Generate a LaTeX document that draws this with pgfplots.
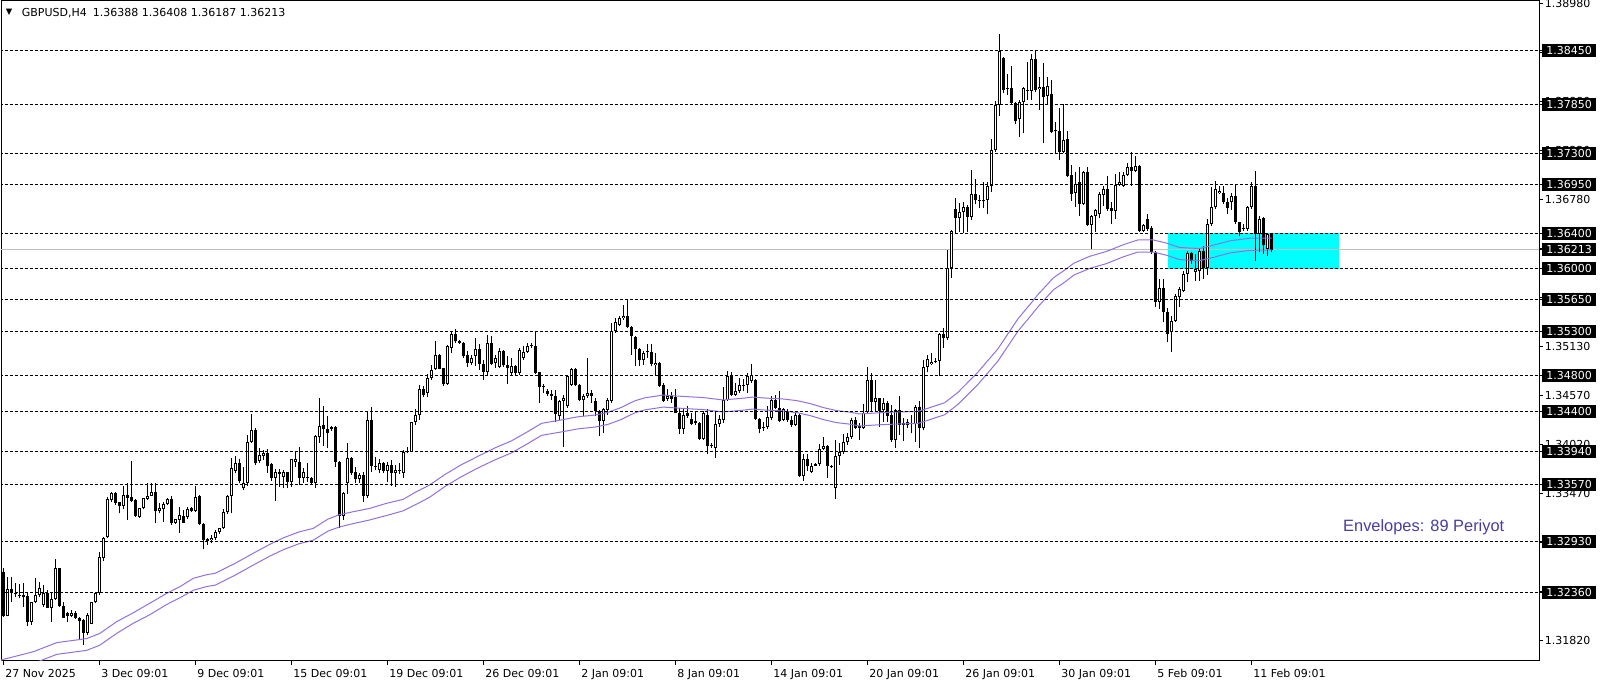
\documentclass[border=0pt]{standalone}
\usepackage{fontspec}
\setmainfont{DejaVu Sans}
\newfontfamily\arialfont{Liberation Sans}
\usepackage{pgfplots}
\usepackage{pgfplotstable}
\pgfplotsset{compat=1.18}
\definecolor{envc}{RGB}{147,112,219}
\definecolor{silverc}{RGB}{192,192,192}
\definecolor{envtext}{RGB}{72,61,160}
\definecolor{zonec}{RGB}{0,255,255}

% GBPUSD H4 candles: bar index, open, high, low, close
\pgfplotstableread{
i o h l c
0 1.32587 1.32632 1.32088 1.32099
1 1.32099 1.32530 1.32092 1.32395
2 1.32395 1.32530 1.32257 1.32358
3 1.32358 1.32470 1.32313 1.32343
4 1.32335 1.32455 1.32294 1.32320
5 1.32328 1.32470 1.32200 1.32305
6 1.32320 1.32350 1.31987 1.32032
7 1.32032 1.32257 1.31994 1.32249
8 1.32249 1.32527 1.32238 1.32328
9 1.32328 1.32478 1.32313 1.32407
10 1.32223 1.32444 1.32200 1.32350
11 1.32350 1.32388 1.32180 1.32189
12 1.32189 1.32358 1.32032 1.32287
13 1.32287 1.32737 1.32280 1.32632
14 1.32632 1.32640 1.32200 1.32212
15 1.32212 1.32257 1.32070 1.32077
16 1.32126 1.32145 1.32032 1.32096
17 1.32099 1.32160 1.32080 1.32126
18 1.32126 1.32155 1.32060 1.32077
19 1.32077 1.32080 1.31825 1.32043
20 1.32050 1.32060 1.31769 1.31908
21 1.31908 1.32126 1.31882 1.32107
22 1.32006 1.32257 1.32000 1.32249
23 1.32249 1.32369 1.32238 1.32350
24 1.32350 1.32819 1.32332 1.32755
25 1.32744 1.32980 1.32714 1.32969
26 1.32980 1.33438 1.32969 1.33408
27 1.33400 1.33494 1.33380 1.33475
28 1.33475 1.33494 1.33340 1.33370
29 1.33374 1.33380 1.33250 1.33336
30 1.33336 1.33561 1.33295 1.33453
31 1.33453 1.33588 1.33175 1.33426
32 1.33430 1.33838 1.33380 1.33389
33 1.33400 1.33410 1.33213 1.33224
34 1.33213 1.33310 1.33200 1.33306
35 1.33306 1.33426 1.33295 1.33419
36 1.33415 1.33588 1.33400 1.33441
37 1.33449 1.33595 1.33440 1.33486
38 1.33494 1.33588 1.33138 1.33280
39 1.33280 1.33363 1.33250 1.33306
40 1.33295 1.33381 1.33156 1.33355
41 1.33351 1.33426 1.33340 1.33411
42 1.33411 1.33449 1.33119 1.33145
43 1.33145 1.33190 1.33130 1.33183
44 1.33175 1.33325 1.33033 1.33228
45 1.33224 1.33288 1.33140 1.33145
46 1.33213 1.33317 1.33190 1.33295
47 1.33310 1.33320 1.33270 1.33280
48 1.33280 1.33558 1.33270 1.33438
49 1.33441 1.33460 1.33120 1.33130
50 1.33130 1.33140 1.32845 1.32950
51 1.32943 1.32969 1.32894 1.32958
52 1.32950 1.33006 1.32913 1.32973
53 1.32969 1.33060 1.32950 1.33044
54 1.33043 1.33085 1.33020 1.33080
55 1.33080 1.33294 1.33070 1.33260
56 1.33260 1.33455 1.33240 1.33444
57 1.33444 1.33868 1.33250 1.33755
58 1.33729 1.33894 1.33699 1.33811
59 1.33811 1.33856 1.33587 1.33617
60 1.33531 1.33767 1.33512 1.33588
61 1.33588 1.34130 1.33561 1.34055
62 1.34055 1.34363 1.34044 1.34186
63 1.34186 1.34205 1.33793 1.33819
64 1.33841 1.33980 1.33819 1.33901
65 1.33894 1.33961 1.33849 1.33931
66 1.33931 1.33969 1.33707 1.33785
67 1.33804 1.33819 1.33617 1.33650
68 1.33650 1.33748 1.33392 1.33710
69 1.33710 1.33748 1.33549 1.33688
70 1.33662 1.33737 1.33530 1.33710
71 1.33710 1.33718 1.33530 1.33605
72 1.33605 1.33856 1.33549 1.33856
73 1.33826 1.33943 1.33774 1.33856
74 1.33823 1.33999 1.33568 1.33650
75 1.33650 1.33760 1.33590 1.33710
76 1.33660 1.33811 1.33605 1.33645
77 1.33643 1.33660 1.33580 1.33594
78 1.33587 1.34130 1.33530 1.34119
79 1.34104 1.34543 1.34044 1.34228
80 1.34239 1.34453 1.34010 1.34194
81 1.34194 1.34344 1.33980 1.34149
82 1.34194 1.34230 1.34180 1.34216
83 1.34224 1.34230 1.33774 1.33830
84 1.33830 1.33840 1.33088 1.33219
85 1.33219 1.33493 1.33174 1.33482
86 1.33587 1.34036 1.33463 1.33868
87 1.33868 1.33886 1.33680 1.33699
88 1.33710 1.33766 1.33587 1.33632
89 1.33632 1.33699 1.33594 1.33680
90 1.33680 1.33718 1.33380 1.33448
91 1.33448 1.34400 1.33418 1.34299
92 1.34299 1.34441 1.33718 1.33785
93 1.33785 1.33886 1.33736 1.33766
94 1.33736 1.33864 1.33699 1.33811
95 1.33811 1.33830 1.33699 1.33729
96 1.33729 1.33830 1.33605 1.33789
97 1.33789 1.33849 1.33557 1.33699
98 1.33699 1.33789 1.33549 1.33736
99 1.33730 1.33811 1.33692 1.33732
100 1.33699 1.33961 1.33650 1.33935
101 1.33935 1.33999 1.33924 1.33950
102 1.33943 1.34280 1.33935 1.34273
103 1.34273 1.34419 1.34243 1.34355
104 1.34355 1.34692 1.34299 1.34644
105 1.34644 1.34681 1.34554 1.34580
106 1.34599 1.34816 1.34554 1.34767
107 1.34772 1.34915 1.34754 1.34866
108 1.34874 1.35185 1.34866 1.35035
109 1.35035 1.35040 1.34870 1.34878
110 1.34885 1.34890 1.34686 1.34705
111 1.34709 1.35147 1.34698 1.35136
112 1.35110 1.35297 1.35054 1.35271
113 1.35271 1.35324 1.35166 1.35185
114 1.35192 1.35200 1.35155 1.35166
115 1.35166 1.35174 1.34997 1.35016
116 1.35027 1.35080 1.34896 1.34941
117 1.34941 1.35035 1.34922 1.34997
118 1.35024 1.35222 1.34911 1.35099
119 1.35099 1.35159 1.34866 1.34934
120 1.34934 1.34971 1.34754 1.34836
121 1.34836 1.35260 1.34799 1.35166
122 1.35166 1.35241 1.34922 1.34934
123 1.34941 1.35035 1.34885 1.34997
124 1.34896 1.35110 1.34885 1.35072
125 1.35072 1.35084 1.34896 1.34915
126 1.34915 1.35016 1.34709 1.34885
127 1.34829 1.34997 1.34791 1.34904
128 1.34904 1.34920 1.34800 1.34829
129 1.34829 1.35110 1.34810 1.35091
130 1.34997 1.35129 1.34979 1.35069
131 1.35069 1.35166 1.35054 1.35136
132 1.35147 1.35166 1.35110 1.35136
133 1.35136 1.35297 1.34821 1.34829
134 1.34836 1.34845 1.34491 1.34671
135 1.34679 1.34709 1.34604 1.34671
136 1.34623 1.34649 1.34574 1.34596
137 1.34596 1.34641 1.34529 1.34566
138 1.34574 1.34641 1.34274 1.34371
139 1.34349 1.34529 1.34304 1.34518
140 1.34510 1.34585 1.33997 1.34548
141 1.34454 1.34810 1.34435 1.34799
142 1.34698 1.34881 1.34686 1.34874
143 1.34874 1.34881 1.34679 1.34690
144 1.34690 1.34709 1.34510 1.34529
145 1.34529 1.34596 1.34341 1.34574
146 1.34566 1.34997 1.34548 1.34604
147 1.34604 1.34641 1.34491 1.34574
148 1.34518 1.34548 1.34349 1.34398
149 1.34398 1.34409 1.34124 1.34285
150 1.34293 1.34435 1.34154 1.34424
151 1.34416 1.34548 1.34360 1.34529
152 1.34518 1.35391 1.34491 1.35297
153 1.35297 1.35447 1.35279 1.35399
154 1.35372 1.35466 1.35354 1.35447
155 1.35447 1.35597 1.35429 1.35474
156 1.35474 1.35661 1.35335 1.35346
157 1.35346 1.35361 1.35035 1.35241
158 1.35234 1.35241 1.34904 1.35099
159 1.35099 1.35110 1.34904 1.34971
160 1.34979 1.35072 1.34922 1.35054
161 1.35066 1.35160 1.34999 1.35074
162 1.35066 1.35149 1.34905 1.34924
163 1.34916 1.35055 1.34793 1.34943
164 1.34943 1.34950 1.34670 1.34680
165 1.34688 1.34718 1.34500 1.34519
166 1.34541 1.34650 1.34511 1.34568
167 1.34568 1.34613 1.34493 1.34541
168 1.34560 1.34643 1.34373 1.34380
169 1.34380 1.34436 1.34137 1.34193
170 1.34193 1.34436 1.34144 1.34361
171 1.34373 1.34455 1.34324 1.34350
172 1.34316 1.34380 1.34249 1.34260
173 1.34287 1.34399 1.34238 1.34268
174 1.34268 1.34275 1.34080 1.34088
175 1.34088 1.34399 1.34080 1.34373
176 1.34361 1.34418 1.33912 1.34005
177 1.34024 1.34043 1.33987 1.34005
178 1.33987 1.34399 1.33874 1.34257
179 1.34257 1.34361 1.34223 1.34316
180 1.34305 1.34673 1.34268 1.34523
181 1.34523 1.34849 1.34511 1.34793
182 1.34800 1.34838 1.34568 1.34586
183 1.34586 1.34718 1.34575 1.34631
184 1.34624 1.34774 1.34605 1.34699
185 1.34699 1.34763 1.34624 1.34680
186 1.34699 1.34830 1.34605 1.34800
187 1.34736 1.34935 1.34718 1.34811
188 1.34748 1.34763 1.34305 1.34313
189 1.34313 1.34320 1.34148 1.34200
190 1.34223 1.34275 1.34174 1.34212
191 1.34223 1.34455 1.34193 1.34335
192 1.34324 1.34568 1.34305 1.34530
193 1.34530 1.34586 1.34418 1.34436
194 1.34436 1.34624 1.34275 1.34294
195 1.34305 1.34436 1.34287 1.34425
196 1.34388 1.34418 1.34275 1.34305
197 1.34305 1.34343 1.34223 1.34249
198 1.34249 1.34373 1.34230 1.34361
199 1.34361 1.34370 1.33660 1.33668
200 1.33668 1.33912 1.33612 1.33863
201 1.33863 1.33912 1.33724 1.33780
202 1.33713 1.33818 1.33705 1.33788
203 1.33788 1.33820 1.33780 1.33810
204 1.33810 1.34035 1.33780 1.33975
205 1.33975 1.34110 1.33960 1.34005
206 1.34005 1.34013 1.33649 1.33788
207 1.33788 1.33799 1.33760 1.33769
208 1.33537 1.34080 1.33413 1.33900
209 1.33900 1.34043 1.33799 1.33938
210 1.33938 1.34137 1.33912 1.34050
211 1.34050 1.34155 1.34024 1.34110
212 1.34110 1.34324 1.34088 1.34298
213 1.34305 1.34335 1.34200 1.34212
214 1.34212 1.34262 1.34075 1.34230
215 1.34213 1.34476 1.34200 1.34374
216 1.34393 1.34899 1.34374 1.34749
217 1.34749 1.34824 1.34393 1.34506
218 1.34506 1.34749 1.34393 1.34543
219 1.34543 1.34551 1.34224 1.34401
220 1.34412 1.34551 1.34281 1.34494
221 1.34494 1.34513 1.34281 1.34348
222 1.34356 1.34468 1.34056 1.34075
223 1.34075 1.34423 1.33988 1.34412
224 1.34412 1.34569 1.34131 1.34243
225 1.34262 1.34318 1.34063 1.34243
226 1.34243 1.34307 1.34206 1.34281
227 1.34260 1.34356 1.34150 1.34266
228 1.34254 1.34468 1.34056 1.34449
229 1.34449 1.34513 1.33988 1.34213
230 1.34206 1.34974 1.34187 1.34899
231 1.34899 1.35030 1.34843 1.34982
232 1.34926 1.35049 1.34918 1.34956
233 1.34948 1.34993 1.34937 1.34963
234 1.34963 1.35274 1.34798 1.35263
235 1.35263 1.35330 1.35113 1.35218
236 1.35218 1.36211 1.35199 1.36013
237 1.36013 1.36436 1.35900 1.36425
238 1.36669 1.36793 1.36391 1.36568
239 1.36568 1.36736 1.36418 1.36635
240 1.36635 1.36755 1.36399 1.36691
241 1.36691 1.36718 1.36410 1.36586
242 1.36586 1.37111 1.36549 1.36838
243 1.36838 1.37006 1.36725 1.36774
244 1.36774 1.36830 1.36680 1.36763
245 1.36774 1.36980 1.36688 1.36763
246 1.36774 1.36980 1.36613 1.36935
247 1.36935 1.37456 1.36868 1.37336
248 1.37336 1.37887 1.37317 1.37842
249 1.37842 1.38637 1.37722 1.38450
250 1.38367 1.38386 1.37973 1.38011
251 1.38037 1.38187 1.37955 1.38022
252 1.38037 1.38285 1.37842 1.37861
253 1.37861 1.37872 1.37628 1.37666
254 1.37681 1.37898 1.37486 1.37872
255 1.37872 1.38048 1.37524 1.38030
256 1.38000 1.38330 1.37898 1.38011
257 1.38000 1.38412 1.37898 1.38360
258 1.38360 1.38461 1.37992 1.38011
259 1.38022 1.38153 1.37786 1.38048
260 1.38048 1.38318 1.37411 1.37936
261 1.37947 1.38153 1.37853 1.38056
262 1.37962 1.38123 1.37524 1.37542
263 1.37545 1.37655 1.37287 1.37550
264 1.37550 1.37812 1.37224 1.37317
265 1.37317 1.37853 1.37299 1.37449
266 1.37460 1.37550 1.37036 1.37047
267 1.37055 1.37167 1.36766 1.36838
268 1.36850 1.37086 1.36700 1.36955
269 1.36974 1.37142 1.36599 1.36730
270 1.36730 1.37105 1.36720 1.37086
271 1.37086 1.37142 1.36479 1.36494
272 1.36494 1.36600 1.36224 1.36591
273 1.36591 1.36674 1.36419 1.36666
274 1.36617 1.36861 1.36569 1.36842
275 1.36831 1.36936 1.36711 1.36899
276 1.36899 1.37049 1.36655 1.36674
277 1.36685 1.36749 1.36505 1.36655
278 1.36655 1.37067 1.36561 1.36944
279 1.36944 1.37086 1.36936 1.36981
280 1.36936 1.37086 1.36917 1.37056
281 1.37056 1.37191 1.37049 1.37142
282 1.37142 1.37319 1.36936 1.37097
283 1.37105 1.37266 1.37086 1.37161
284 1.37161 1.37169 1.36419 1.36430
285 1.36430 1.36505 1.36419 1.36494
286 1.36561 1.36617 1.36430 1.36449
287 1.36456 1.36479 1.36168 1.36186
288 1.36186 1.36205 1.35568 1.35632
289 1.35632 1.35886 1.35549 1.35781
290 1.35781 1.35886 1.35399 1.35512
291 1.35512 1.35557 1.35174 1.35268
292 1.35287 1.35474 1.35069 1.35418
293 1.35418 1.35718 1.35399 1.35699
294 1.35680 1.35793 1.35568 1.35774
295 1.35755 1.35980 1.35736 1.35943
296 1.35943 1.36205 1.35849 1.36175
297 1.36175 1.36186 1.36055 1.36093
298 1.35969 1.36168 1.35868 1.35999
299 1.35980 1.36224 1.35868 1.36205
300 1.36205 1.36261 1.35886 1.36006
301 1.36006 1.36561 1.35931 1.36505
302 1.36505 1.36917 1.36486 1.36700
303 1.36692 1.36992 1.36674 1.36899
304 1.36854 1.36936 1.36842 1.36880
305 1.36854 1.36936 1.36730 1.36749
306 1.36756 1.36794 1.36617 1.36681
307 1.36749 1.36854 1.36666 1.36816
308 1.36824 1.36955 1.36505 1.36524
309 1.36524 1.36531 1.36374 1.36411
310 1.36449 1.36505 1.36430 1.36460
311 1.36449 1.36711 1.36430 1.36692
312 1.36692 1.36974 1.36674 1.36936
313 1.36936 1.37105 1.36093 1.36393
314 1.36393 1.36599 1.36194 1.36561
315 1.36569 1.36580 1.36168 1.36269
316 1.36224 1.36404 1.36141 1.36389
317 1.36388 1.36408 1.36187 1.36213
}\candles

\begin{document}
\begin{tikzpicture}[font=\fontsize{5.5}{6.6}\selectfont]
\useasboundingbox (-0.5pt,-11.5pt) rectangle (802.5pt,330.5pt);
\begin{axis}[
  at={(0pt,0pt)}, anchor=south west,
  width=769pt, height=330pt, scale only axis,
  xmin=-0.625, xmax=383.875, ymin=1.315893, ymax=1.390124,
  clip mode=individual,
  axis line style={black, line width=0.5pt},
  tick align=outside,
  xtick pos=bottom, ytick pos=right, yticklabel pos=right,
  major tick length=2pt,
  tick style={black, line width=0.5pt},
  scaled y ticks=false,
  ytick={1.3898,1.3843,1.3788,1.3733,1.3678,1.3623,1.3568,1.3513,1.3457,1.3402,1.3347,1.3292,1.3237,1.3182},
  yticklabels={1.38980,1.38430,1.37880,1.37330,1.36780,1.36230,1.35680,1.35130,1.34570,1.34020,1.33470,1.32920,1.32370,1.31820},
  extra y ticks={1.3845,1.3785,1.373,1.3695,1.364,1.36213,1.36,1.3565,1.353,1.348,1.344,1.3394,1.3357,1.3293,1.3236},
  extra y tick labels={1.38450,1.37850,1.37300,1.36950,1.36400,1.36213,1.36000,1.35650,1.35300,1.34800,1.34400,1.33940,1.33570,1.32930,1.32360},
  extra y tick style={yticklabel style={fill=black, text=white, inner xsep=2pt, inner ysep=0pt, minimum height=6.5pt, xshift=-0.5pt}},
  yticklabel style={anchor=west, inner xsep=0.75pt, inner ysep=0pt},
  xtick={0,24,...,312},
  xticklabels={27 Nov 2025,3 Dec 09:01,9 Dec 09:01,15 Dec 09:01,19 Dec 09:01,26 Dec 09:01,2 Jan 09:01,8 Jan 09:01,14 Jan 09:01,20 Jan 09:01,26 Jan 09:01,30 Jan 09:01,5 Feb 09:01,11 Feb 09:01},
  xticklabel style={anchor=north west, inner sep=0pt, xshift=0.75pt, yshift=-1.8pt},
  tick label style={font=\fontsize{5.5}{6.6}\selectfont},
]
% rectangle zone
\addplot[fill=zonec, draw=none, forget plot] coordinates {(291,1.36) (333.8,1.36) (333.8,1.364) (291,1.364)};
% bid line
\addplot[silverc, line width=0.5pt, forget plot] coordinates {(-1,1.36213) (390,1.36213)};
% wicks
\addplot[draw=none, mark=none, forget plot,
  error bars/.cd, y dir=plus, y explicit, error mark=none,
  error bar style={draw=black, line width=0.5pt, solid}]
  table[x=i, y=l, y error expr={\thisrow{h}-\thisrow{l}}] {\candles};
% bodies
\addplot[draw=none, mark=none, forget plot,
  error bars/.cd, y dir=plus, y explicit, error mark=none,
  error bar style={draw=black, line width=1.5pt, solid}]
  table[x=i, y expr={min(\thisrow{o},\thisrow{c})}, y error expr={max(abs(\thisrow{c}-\thisrow{o}),0.0001125)}] {\candles};
% hollow interior of rising candles
\addplot[draw=none, mark=none, forget plot,
  restrict expr to domain={\thisrow{c}-\thisrow{o}}{0.00023:1},
  error bars/.cd, y dir=plus, y explicit, error mark=none,
  error bar style={draw=white, line width=0.5pt, solid}]
  table[x=i, y expr={\thisrow{o}+0.0001125}, y error expr={\thisrow{c}-\thisrow{o}-0.000225}] {\candles};
% envelopes upper
\addplot[envc, line width=0.5pt, forget plot] coordinates {
(-1,1.31590) (0,1.31608) (7.5,1.31694) (13.3,1.31796) (18.3,1.31826) (20.8,1.31841) (24.1,1.31900) (28.3,1.32032) (32.5,1.32133) (36.6,1.32240) (40.8,1.32350) (44.1,1.32425) (47.5,1.32520) (50.8,1.32560) (52.9,1.32575) (58,1.32690) (62,1.32790) (66.5,1.32900) (70,1.32975) (74,1.33043) (77.4,1.33080) (81.1,1.33185) (84,1.33235) (87.4,1.33268) (91.5,1.33305) (95.7,1.33362) (99.9,1.33407) (103.2,1.33493) (106.5,1.33568) (110.3,1.33685) (114.5,1.33798) (118.6,1.33891) (122.8,1.33985) (127,1.34065) (131.1,1.34170) (134.5,1.34262) (139.4,1.34300) (143.6,1.34336) (147.8,1.34355) (151.1,1.34385) (154.4,1.34440) (157.8,1.34515) (160.3,1.34549) (164.9,1.34580) (169.9,1.34565) (174.9,1.34552) (179.9,1.34525) (184.9,1.34545) (187.4,1.34558) (189.9,1.34548) (194.9,1.34536) (198.3,1.34518) (201.6,1.34485) (204.9,1.34440) (208.3,1.34405) (211.6,1.34388) (214,1.34368) (218.6,1.34380) (223.6,1.34390) (228.6,1.34396) (230.3,1.34420) (235.3,1.34494) (238.6,1.34610) (243.6,1.34838) (248.6,1.35100) (253.6,1.35437) (257,1.35620) (258.6,1.35710) (262.5,1.35900) (265.3,1.35986) (267.6,1.36064) (271.5,1.36140) (275.7,1.36195) (279.9,1.36270) (283.6,1.36325) (287.4,1.36325) (290.7,1.36290) (294,1.36240) (299,1.36228) (302.4,1.36265) (306.6,1.36315) (311.5,1.36344) (317,1.36345)};
% envelopes lower
\addplot[envc, line width=0.5pt, forget plot] coordinates {
(-1,1.31458) (0,1.31476) (7.5,1.31562) (13.3,1.31664) (18.3,1.31694) (20.8,1.31709) (24.1,1.31768) (28.3,1.31900) (32.5,1.32015) (36.6,1.32110) (40.8,1.32225) (44.1,1.32300) (47.5,1.32385) (50.8,1.32427) (52.9,1.32442) (58,1.32557) (62,1.32657) (66.5,1.32767) (70,1.32842) (74,1.32910) (77.4,1.32947) (81.1,1.33050) (84,1.33097) (87.4,1.33134) (91.5,1.33175) (95.7,1.33225) (99.9,1.33278) (103.2,1.33352) (106.5,1.33430) (110.3,1.33550) (114.5,1.33663) (118.6,1.33760) (122.8,1.33850) (127,1.33930) (131.1,1.34035) (134.5,1.34127) (139.4,1.34165) (143.6,1.34200) (147.8,1.34220) (151.1,1.34250) (154.4,1.34305) (157.8,1.34380) (160.3,1.34413) (164.9,1.34445) (169.9,1.34430) (174.9,1.34417) (179.9,1.34390) (184.9,1.34410) (187.4,1.34423) (189.9,1.34413) (194.9,1.34401) (198.3,1.34383) (201.6,1.34350) (204.9,1.34305) (208.3,1.34270) (211.6,1.34253) (214,1.34233) (218.6,1.34245) (223.6,1.34255) (228.6,1.34261) (230.3,1.34285) (235.3,1.34359) (238.6,1.34475) (243.6,1.34700) (248.6,1.34962) (253.6,1.35298) (257,1.35482) (258.6,1.35572) (262.5,1.35765) (265.3,1.35850) (267.6,1.35930) (271.5,1.36004) (275.7,1.36058) (279.9,1.36134) (283.6,1.36189) (287.4,1.36189) (290.7,1.36154) (294,1.36104) (299,1.36092) (302.4,1.36128) (306.6,1.36179) (311.5,1.36207) (317,1.36213)};
% horizontal level lines
\pgfplotsinvokeforeach{1.3845,1.3785,1.373,1.3695,1.364,1.36,1.3565,1.353,1.348,1.344,1.3394,1.3357,1.3293,1.3236}{
  \addplot[black, line width=0.5pt, dash pattern=on 1.5pt off 1pt, forget plot] coordinates {(-1,#1) (390,#1)};
}
\end{axis}
\node[anchor=base west, inner sep=0pt] at (10.25pt,322.3pt) {GBPUSD,H4\hspace{0.55em}1.36388 1.36408 1.36187 1.36213};
\node[inner sep=0pt, font=\fontsize{4.2}{4.2}\selectfont] at (4.1pt,324.4pt) {▼};
\node[anchor=base west, inner sep=0pt, text=envtext, font=\arialfont\fontsize{8.2}{9.8}\selectfont] at (670.9pt,64.7pt) {Envelopes: 89 Periyot};
\end{tikzpicture}
\end{document}
